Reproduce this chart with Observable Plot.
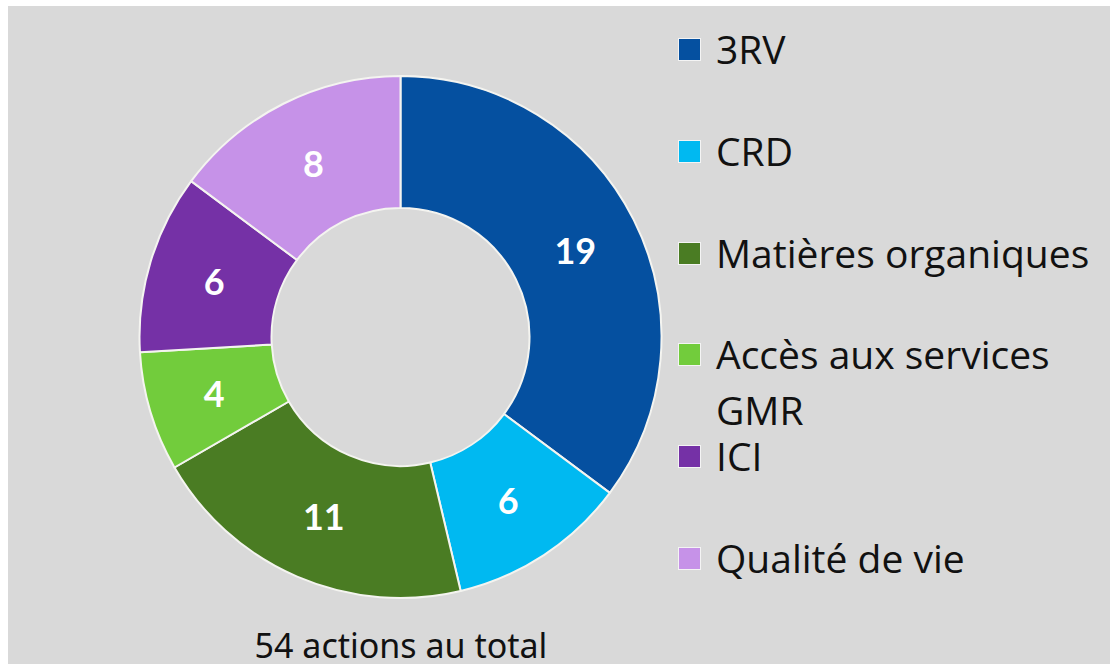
<!DOCTYPE html>
<html>
<head>
<meta charset="utf-8">
<script src="https://cdn.jsdelivr.net/npm/d3@7"></script>
<script src="https://cdn.jsdelivr.net/npm/@observablehq/plot@0.6"></script>
<style>
  html, body { margin: 0; padding: 0; background: #ffffff; width: 1110px; height: 664px; overflow: hidden; }
  #panel { position: absolute; left: 8px; top: 6px; width: 1102px; height: 658px; background: #d9d9d9; }
  #chart { position: absolute; left: 0; top: 0; }
  #legend { position: absolute; left: 670px; top: 15px; width: 432px; font-family: "Open Sans", sans-serif; font-size: 39px; color: #111; font-variant-ligatures: none; }
  .item { position: relative; padding-left: 38px; line-height: 56px; height: 101.8px; width: 390px; }
  .sw { position: absolute; left: 0; top: 17px; width: 21px; height: 21px; border: 1.5px solid #f4f4f4; }
  #caption { position: absolute; left: 0; width: 786px; top: 622px; text-align: center; font-family: "Noto Sans", sans-serif; font-size: 34px; line-height: 34px; color: #111; }
</style>
</head>
<body>
<div id="panel">
  <div id="chart"></div>
  <div id="legend"></div>
  <div id="caption"></div>
</div>
<script>
const categories = ["3RV", "CRD", "Matières organiques", "Accès aux services GMR", "ICI", "Qualité de vie"];
const values = [19, 6, 11, 4, 6, 8];
const colors = ["#0550a0", "#00b9f1", "#4a7c23", "#72cc3c", "#7531a6", "#c692e8"];
const captionText = "54 actions au total";

const data = categories.map((c, i) => ({category: c, value: values[i]}));

const color = Plot.scale({color: {type: "ordinal", domain: categories, range: colors}});

const W = 786, H = 620;
const CX = 392.5, CY = 331;
const R_OUT = 261, R_IN = 129;

const arcs = d3.pie().sort(null).value(d => d.value)(data);
const arcGen = d3.arc().innerRadius(R_IN).outerRadius(R_OUT);

function donut(index, scales) {
  const g = d3.create("svg:g");
  const cx = scales.x(CX), cy = scales.y(CY);
  g.selectAll("path")
    .data(arcs)
    .join("path")
    .attr("transform", `translate(${cx},${cy})`)
    .attr("d", arcGen)
    .attr("fill", d => color.apply(d.data.category))
    .attr("stroke", "#f4f4f0")
    .attr("stroke-width", 2)
    .attr("stroke-linejoin", "round");
  return g.node();
}

const chart = Plot.plot({
  width: W,
  height: H,
  margin: 0,
  x: {domain: [0, W], range: [0, W], axis: null},
  y: {domain: [0, H], range: [0, H], axis: null},
  style: {background: "transparent", overflow: "visible"},
  marks: [
    donut,
    Plot.text(arcs, {
      x: d => CX + arcGen.centroid(d)[0],
      y: d => CY + arcGen.centroid(d)[1] + 2,
      text: d => String(d.data.value),
      fill: "white",
      fontSize: 36,
      fontWeight: "bold",
      fontFamily: "Lato, sans-serif"
    })
  ]
});
document.getElementById("chart").appendChild(chart);

const legend = d3.select("#legend");
const items = legend.selectAll(".item").data(categories).join("div").attr("class", "item");
items.append("span").attr("class", "sw").style("background", d => color.apply(d));
items.append("span").text(d => d);

document.getElementById("caption").textContent = captionText;
</script>
</body>
</html>
